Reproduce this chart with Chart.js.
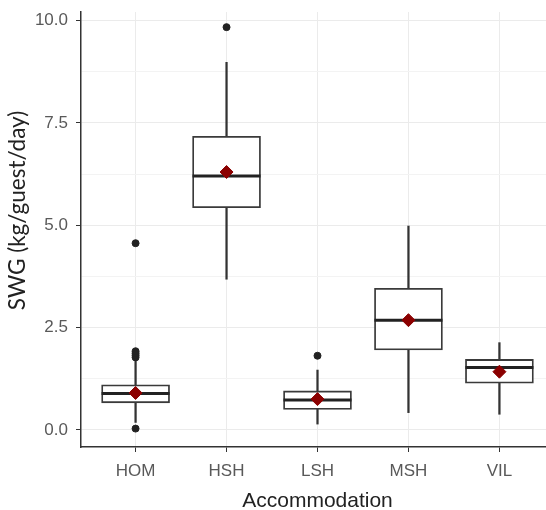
<!DOCTYPE html>
<html>
<head>
<meta charset="utf-8">
<script src="https://cdn.jsdelivr.net/npm/chart.js@4.4.1/dist/chart.umd.min.js"></script>
<style>
  html, body { margin: 0; padding: 0; background: #fff; overflow: hidden; }
  #wrap { width: 554px; height: 510px; }
</style>
</head>
<body>
<div id="wrap"><canvas id="box-chart" width="554" height="510"></canvas></div>
<script>
// values
const categories = ['HOM', 'HSH', 'LSH', 'MSH', 'VIL'];
const q1Values = [0.66, 5.43, 0.50, 1.95, 1.14];
const medianValues = [0.89, 6.20, 0.73, 2.68, 1.52];
const q3Values = [1.10, 7.17, 0.95, 3.46, 1.72];
const whiskerLow = [0.18, 3.68, 0.14, 0.42, 0.38];
const whiskerHigh = [1.72, 8.98, 1.46, 4.98, 2.13];
const meanValues = [0.90, 6.30, 0.75, 2.68, 1.42];
const outlierValues = [
    [0.03, 1.77, 1.82, 1.87, 1.92, 4.56],
    [9.84],
    [1.81],
    [],
    []
];
const yTicks = [0, 1.25, 2.5, 3.75, 5, 6.25, 7.5, 8.75, 10];
const xTitle = 'Accommodation';
const yTitle = 'SWG (kg/guest/day)';

window.addEventListener("DOMContentLoaded", () => {
    setupChart();
});

function isMajor(v) {
    return Math.abs(v / 2.5 - Math.round(v / 2.5)) < 1e-6;
}

const yTitlePlugin = {
    id: 'yTitlePlugin',
    afterDraw(chart) {
        const ctx = chart.ctx;
        const area = chart.chartArea;
        ctx.save();
        ctx.translate(18, (area.top + area.bottom) / 2 - 19);
        ctx.rotate(-Math.PI / 2);
        ctx.font = '22.5px Lato';
        ctx.fillStyle = '#222';
        ctx.textAlign = 'center';
        ctx.textBaseline = 'middle';
        ctx.fillText(yTitle, 0, 0);
        ctx.restore();
    }
};

function setupChart() {
    const ctx = document.getElementById('box-chart');

    const outlierPoints = [];
    outlierValues.forEach((list, i) => {
        list.forEach(v => outlierPoints.push({x: i, y: v}));
    });

    const config = {
        type: 'bar',
        data: {
            datasets: [
                {
                    type: 'scatter',
                    data: categories.map((c, i) => ({x: i, y: meanValues[i]})),
                    pointStyle: 'rectRot',
                    radius: 6.5,
                    backgroundColor: '#8b0000',
                    borderColor: '#8b0000',
                    borderWidth: 1,
                    order: 0
                },
                {
                    type: 'scatter',
                    data: categories.map((c, i) => ({x: i, y: medianValues[i]})),
                    pointStyle: 'line',
                    radius: 34,
                    borderColor: '#222',
                    borderWidth: 3,
                    order: 1
                },
                {
                    type: 'scatter',
                    data: outlierPoints,
                    pointStyle: 'circle',
                    radius: 3.5,
                    backgroundColor: '#222',
                    borderColor: '#222',
                    borderWidth: 1,
                    order: 1
                },
                {
                    data: categories.map((c, i) => ({x: i, y: [q1Values[i], q3Values[i]]})),
                    backgroundColor: '#fff',
                    borderColor: '#3a3a3a',
                    borderWidth: 1.8,
                    borderSkipped: false,
                    barThickness: 68,
                    grouped: false,
                    order: 2
                },
                {
                    data: categories.map((c, i) => ({x: i, y: [whiskerLow[i], whiskerHigh[i]]})),
                    backgroundColor: '#333',
                    borderWidth: 0,
                    barThickness: 1.6,
                    grouped: false,
                    order: 3
                }
            ]
        },
        options: {
            responsive: false,
            animation: false,
            layout: {
                autoPadding: false,
                padding: {top: 12, right: 0, left: 0, bottom: 0}
            },
            plugins: {
                legend: {display: false},
                tooltip: {enabled: false}
            },
            scales: {
                x: {
                    type: 'linear',
                    offset: false,
                    min: -0.6,
                    max: 4.6,
                    afterBuildTicks: (scale) => {
                        scale.ticks = categories.map((c, i) => ({value: i}));
                    },
                    afterFit: (scale) => { scale.height = 63; },
                    grid: {
                        offset: false,
                        color: '#ebebeb',
                        tickColor: '#333',
                        tickLength: 5,
                        lineWidth: 1
                    },
                    border: {color: '#333', width: 1.5},
                    ticks: {
                        autoSkip: false,
                        maxRotation: 0,
                        padding: 9,
                        color: '#595959',
                        font: {family: 'Liberation Sans', size: 17},
                        callback: (v) => categories[v]
                    },
                    title: {
                        display: true,
                        text: xTitle,
                        color: '#222',
                        font: {family: 'Liberation Sans', size: 21},
                        padding: {top: 0, bottom: -4}
                    }
                },
                y: {
                    min: -0.42,
                    max: 10.21,
                    afterBuildTicks: (scale) => {
                        scale.ticks = yTicks.map(v => ({value: v}));
                    },
                    afterFit: (scale) => {
                        scale.width = 81;
                        scale.paddingTop = 0;
                        scale.paddingBottom = 0;
                    },
                    grid: {
                        color: (c) => isMajor(c.tick.value) ? '#ebebeb' : '#f3f3f3',
                        tickColor: (c) => isMajor(c.tick.value) ? '#333' : 'rgba(0,0,0,0)',
                        tickLength: 5,
                        lineWidth: 1
                    },
                    border: {color: '#333', width: 1.5},
                    ticks: {
                        autoSkip: false,
                        padding: 8,
                        color: '#595959',
                        font: {family: 'Liberation Sans', size: 17},
                        callback: (v) => isMajor(v) ? v.toFixed(1) : ''
                    }
                }
            }
        },
        plugins: [yTitlePlugin]
    };

    const chart = new Chart(ctx, config);
    return chart;
}
</script>
</body>
</html>
